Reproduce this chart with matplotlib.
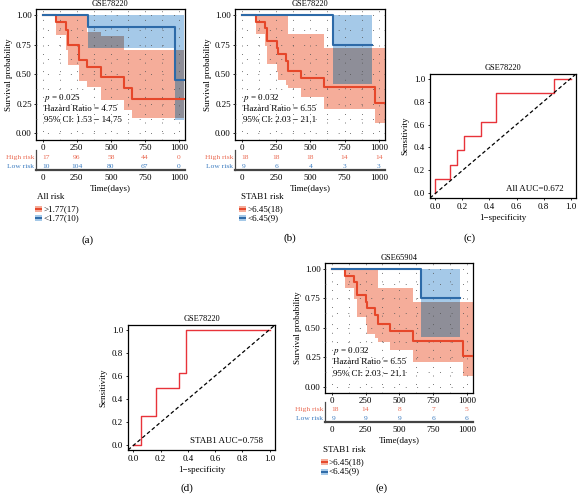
import numpy as np
import matplotlib
matplotlib.use("Agg")
import matplotlib.pyplot as plt
from matplotlib.patches import Rectangle
from matplotlib.lines import Line2D

plt.rcParams['font.family'] = ['Liberation Serif', 'DejaVu Serif']
plt.rcParams['mathtext.fontset'] = 'stix'

# ---- data ----
km_ticks = [0, 250, 500, 750, 1000]

# (a) All risk, GSE78220
a_high_t = [0, 98, 171, 183, 263, 324, 427, 598, 654, 1036]
a_high_s = [1.0, 0.94, 0.87, 0.75, 0.62, 0.56, 0.48, 0.38, 0.29]
a_high_ci_t = [98, 171, 183, 263, 324, 427, 598, 654, 1036]
a_high_ci_lo = [0.83, 0.70, 0.58, 0.44, 0.39, 0.28, 0.20, 0.13]
a_high_ci_hi = [1.0, 1.0, 1.0, 1.0, 0.86, 0.82, 0.70, 0.70]
a_low_t = [0, 329, 968, 1036]
a_low_s = [1.0, 0.90, 0.45]
a_low_ci_t = [329, 968, 1036]
a_low_ci_lo = [0.72, 0.11]
a_low_ci_hi = [1.0, 1.0]
a_risk_high = [17, 96, 58, 44, 0]
a_risk_low = [10, 104, 80, 67, 0]
a_stats = ["p = 0.025", "Hazard Ratio = 4.75", "95% CI: 1.53 \u2212 14.75"]
a_legend = ["All risk", ">1.77(17)", "<1.77(10)"]

# (b) and (e) STAB1 risk
b_high_t = [0, 101, 167, 185, 254, 261, 323, 340, 433, 599, 973, 1042]
b_high_s = [1.0, 0.94, 0.89, 0.78, 0.72, 0.67, 0.61, 0.53, 0.47, 0.39, 0.26]
b_high_ci_t = [101, 167, 185, 254, 261, 323, 340, 433, 599, 973, 1042]
b_high_ci_lo = [0.84, 0.74, 0.59, 0.52, 0.45, 0.41, 0.38, 0.31, 0.21, 0.09]
b_high_ci_hi = [1.0, 1.0, 1.0, 1.0, 1.0, 1.0, 0.84, 0.84, 0.72, 0.72]
b_low_t = [0, 662, 948]
b_low_s = [1.0, 0.75]
b_low_ci_t = [662, 948]
b_low_ci_lo = [0.42]
b_low_ci_hi = [1.0]
b_risk_high = [18, 18, 18, 14, 14]
b_risk_low = [9, 6, 4, 3, 3]
e_risk_high = [18, 14, 8, 7, 5]
e_risk_low = [9, 9, 9, 6, 6]
b_stats = ["p = 0.032", "Hazard Ratio = 6.55", "95% CI: 2.03 \u2212 21.1"]
b_legend = ["STAB1 risk", ">6.45(18)", "<6.45(9)"]

# ROC curves
c_fpr = [0, 0, 0.105, 0.16, 0.215, 0.335, 0.45, 0.88, 1.0]
c_tpr = [0, 0.125, 0.25, 0.375, 0.5, 0.625, 0.875, 1.0, 1.0]
d_fpr = [0, 0.053, 0.163, 0.333, 0.389, 1.0]
d_tpr = [0, 0.25, 0.5, 0.625, 1.0, 1.0]
roc_ticks = [0.0, 0.2, 0.4, 0.6, 0.8, 1.0]

RED = '#E6472A'
BLUE = '#2D6AA8'
RED_FILL = '#F5AD9A'
BLUE_FILL = '#A5C9E8'
GRAY_FILL = '#8E8E98'
RED_TXT = '#EA6A52'
BLUE_TXT = '#3C7CC0'

W, H = 578, 494
FS = 6.5


def box(l, t, r, b):
    return [l / W, 1 - b / H, (r - l) / W, (b - t) / H]


def band_values(grid, bt, lo, hi):
    idx = np.searchsorted(bt, grid, side='right') - 1
    ok = (idx >= 0) & (idx < len(lo))
    j = np.clip(idx, 0, len(lo) - 1)
    l = np.where(ok, np.asarray(lo)[j], np.nan)
    h = np.where(ok, np.asarray(hi)[j], np.nan)
    return l, h


def km_panel(fig, rect, rrect, rylim, title, high, low, stats, risk_hi, risk_lo):
    ax = fig.add_axes(box(*rect))
    ht, hs, hct, hlo, hhi = high
    lt, ls, lct, llo, lhi = low
    ax.fill_between(hct, hlo + [hlo[-1]], hhi + [hhi[-1]], step='post',
                    color=RED_FILL, lw=0, zorder=1)
    ax.fill_between(lct, llo + [llo[-1]], lhi + [lhi[-1]], step='post',
                    color=BLUE_FILL, lw=0, zorder=1)
    # overlap of both confidence bands
    grid = np.unique(np.concatenate([hct, lct]))
    rl, rh = band_values(grid, hct, hlo, hhi)
    bl, bh = band_values(grid, lct, llo, lhi)
    olo = np.maximum(rl, bl)
    ohi = np.minimum(rh, bh)
    for i in range(len(grid) - 1):
        if np.isfinite(olo[i]) and np.isfinite(ohi[i]) and ohi[i] > olo[i]:
            ax.fill_between([grid[i], grid[i + 1]], [olo[i]] * 2, [ohi[i]] * 2,
                            color=GRAY_FILL, lw=0, zorder=2)
    # dotted grid on top of the fills
    for x in np.arange(0, 1001, 125):
        ax.axvline(x, color='#555555', lw=0.7, ls=(0, (0.8, 8)), zorder=3)
    for y in np.arange(0, 1.01, 0.125):
        ax.axhline(y, color='#555555', lw=0.7, ls=(0, (0.8, 11)), zorder=3)
    ax.step(ht, hs + [hs[-1]], where='post', color=RED, lw=1.5, zorder=4)
    ax.step(lt, ls + [ls[-1]], where='post', color=BLUE, lw=1.5, zorder=4)
    ax.set_xlim(-50, 1045)
    ax.set_ylim(-0.055, 1.05)
    ax.set_xticks(km_ticks)
    ax.set_yticks([0, 0.25, 0.5, 0.75, 1.0])
    ax.set_yticklabels(['0.00', '0.25', '0.50', '0.75', '1.00'])
    ax.tick_params(labelsize=FS, length=1.5, pad=1.5, width=0.6)
    ax.set_ylabel('Survival probability', fontsize=FS, labelpad=2)
    ax.set_title(title, fontsize=6, pad=2)
    for sp in ax.spines.values():
        sp.set_linewidth(0.9)
    p, hr, ci = stats
    ax.text(10, 0.30, r'$p$' + p[1:], fontsize=FS, va='center', zorder=5)
    ax.text(10, 0.205, hr, fontsize=FS, va='center', zorder=5)
    ax.text(10, 0.11, ci, fontsize=FS, va='center', zorder=5)

    rax = fig.add_axes(box(*rrect))
    rax.set_xlim(-50, 1045)
    rax.set_ylim(*rylim)
    rfs = 5.4
    for x, n in zip(km_ticks, risk_hi):
        rax.text(x, 1, str(n), color=RED_TXT, fontsize=rfs, ha='left' if x == 0 else 'center', va='center')
    for x, n in zip(km_ticks, risk_lo):
        rax.text(x, 0, str(n), color=BLUE_TXT, fontsize=rfs, ha='left' if x == 0 else 'center', va='center')
    rax.set_yticks([1, 0])
    rax.set_yticklabels(['High risk', 'Low risk'], fontsize=rfs)
    for lab, c in zip(rax.get_yticklabels(), [RED_TXT, BLUE_TXT]):
        lab.set_color(c)
    rax.tick_params(axis='y', length=0, pad=1.5)
    rax.set_xticks(km_ticks)
    rax.tick_params(axis='x', labelsize=FS, length=0, pad=3)
    rax.spines['top'].set_visible(False)
    rax.spines['right'].set_visible(False)
    rax.spines['bottom'].set_linewidth(1.6)
    rax.spines['bottom'].set_color('#444444')
    rax.spines['left'].set_linewidth(0.9)
    rax.spines['left'].set_color('#444444')
    rax.patch.set_alpha(0)
    rax.set_xlabel('Time(days)', fontsize=FS, labelpad=2)
    return ax


def legend_block(fig, x, y, labels):
    fig.text(x / W, 1 - y / H, labels[0], fontsize=FS, va='center', ha='left')
    for k, (fc, lc) in enumerate([(RED_FILL, RED), (BLUE_FILL, BLUE)]):
        yy = y + 12 + 9.5 * k
        fig.add_artist(Rectangle(((x - 2) / W, 1 - (yy + 3) / H), 7 / W, 6 / H,
                                 transform=fig.transFigure, fc=fc, ec='none'))
        fig.add_artist(Line2D([(x - 2) / W, (x + 5) / W], [1 - yy / H, 1 - yy / H],
                              transform=fig.transFigure, color=lc, lw=1.4,
                              solid_capstyle='butt'))
        fig.text((x + 6) / W, 1 - yy / H, labels[k + 1], fontsize=FS, va='center', ha='left')


def roc_panel(fig, rect, fpr, tpr, note):
    ax = fig.add_axes(box(*rect))
    ax.step(fpr, tpr, where='post', color='#E8333A', lw=1.0)
    ax.axline((0, 0), (1, 1), color='black', lw=0.9, ls=(0, (3, 2)))
    ax.set_xlim(-0.04, 1.04)
    ax.set_ylim(-0.04, 1.04)
    ax.set_xticks(roc_ticks)
    ax.set_yticks(roc_ticks)
    ax.tick_params(labelsize=FS, length=1.5, pad=2, width=0.6)
    ax.set_xlabel('1\u2212specificity', fontsize=FS, labelpad=2)
    ax.set_ylabel('Sensitivity', fontsize=FS, labelpad=3)
    ax.set_title('GSE78220', fontsize=6, pad=3)
    for sp in ax.spines.values():
        sp.set_linewidth(0.9)
    ax.text(0.95, 0.04, note, fontsize=FS, ha='right', va='center')
    return ax


fig = plt.figure(figsize=(W / 100, H / 100), dpi=100)

high_a = (a_high_t, a_high_s, a_high_ci_t, a_high_ci_lo, a_high_ci_hi)
low_a = (a_low_t, a_low_s, a_low_ci_t, a_low_ci_lo, a_low_ci_hi)
high_b = (b_high_t, b_high_s, b_high_ci_t, b_high_ci_lo, b_high_ci_hi)
low_b = (b_low_t, b_low_s, b_low_ci_t, b_low_ci_lo, b_low_ci_hi)

km_panel(fig, (36, 9, 185, 140), (36, 150, 185, 170), (-0.47, 1.88), 'GSE78220',
         high_a, low_a, a_stats, a_risk_high, a_risk_low)
km_panel(fig, (235, 9, 385, 140), (235, 150, 385, 170), (-0.47, 1.88), 'GSE78220',
         high_b, low_b, b_stats, b_risk_high, b_risk_low)
km_panel(fig, (325, 263, 473, 393), (325, 402, 473, 422), (-0.47, 1.88), 'GSE65904',
         high_b, low_b, b_stats, e_risk_high, e_risk_low)

roc_panel(fig, (430, 74, 576, 198), c_fpr, c_tpr, 'All AUC=0.672')
roc_panel(fig, (128, 325, 275, 450), d_fpr, d_tpr, 'STAB1 AUC=0.758')

legend_block(fig, 37, 197, a_legend)
legend_block(fig, 241, 197, b_legend)
legend_block(fig, 323, 450, b_legend)

for lab, x, y in [('(a)', 88, 240), ('(b)', 290, 238), ('(c)', 470, 238),
                  ('(d)', 187, 488), ('(e)', 382, 488)]:
    fig.text(x / W, 1 - y / H, lab, fontsize=8, ha='center', va='center')

fig.savefig('out.png', dpi=100)
